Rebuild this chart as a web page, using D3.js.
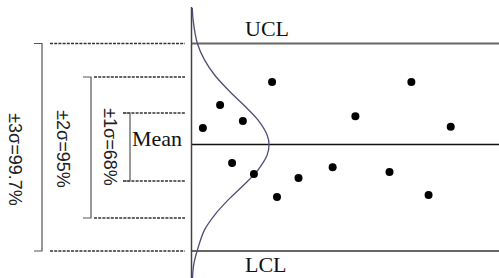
<!DOCTYPE html>
<html><head><meta charset="utf-8">
<script src="https://cdn.jsdelivr.net/npm/d3@7"></script>
<style>html,body{margin:0;padding:0;background:#fff;} svg{display:block;}</style>
</head><body>
<svg id="chart" width="499" height="278"></svg>
<script>
// ---- data ----
const sampleX = [3.7, 9.3, 13.2, 16.7, 20.3, 26.2, 27.8, 34.8, 45.9, 53.3, 64.4, 71.5, 77.1, 84.3];
const sampleY = [0.52, 1.22, -0.51, 0.75, -0.81, 1.86, -1.43, -0.92, -0.62, 0.90, -0.75, 1.86, -1.38, 0.56];
const sigmaLevels = [1, 2, 3];
const bandLabels = ["±1σ=68%", "±2σ=95%", "±3σ=99.7%"];
const limitLevels = [3, 0, -3];
const limitLabels = ["UCL", "Mean", "LCL"];
const curveLevel = [4.06, 3.70, 3.00, 2.51, 2.06, 1.64, 1.22, 0.78, 0.30, 0, -0.29, -0.70, -1.11, -1.51, -1.92, -2.36, -2.97, -3.42, -3.82];
const curveDensity = [0.010, 0.021, 0.076, 0.168, 0.298, 0.474, 0.674, 0.857, 0.976, 1, 0.976, 0.857, 0.674, 0.474, 0.298, 0.168, 0.076, 0.028, 0.013];

// ---- layout ----
const W = 499, H = 278;
const axisX = 191.5;
const svg = d3.select("#chart");
const x = d3.scaleLinear().domain([0, 100]).range([axisX, W]);
const y = d3.scaleLinear().domain([-3, -2, -1, 0, 1, 2, 3]).range([251, 218, 181, 144.5, 113, 77, 43.5]);
const xd = d3.scaleLinear().domain([0, 1]).range([axisX, 269]);

const bandLayout = {
  1: {dashX: 123, brX: 130, tickX: 123, labX: 109.5, labY: 147},
  2: {dashX: 94, brX: 91, tickX: 83, labX: 63, labY: 149},
  3: {dashX: 50, brX: 42, tickX: 34, labX: 15, labY: 159.5}
};
const limitLayout = {
  UCL: {tx: 245, ty: 36, color: "#666", w: 2},
  Mean: {tx: 132, ty: 146, color: "#111", w: 1.4},
  LCL: {tx: 245, ty: 272, color: "#333", w: 1.5}
};

// dashed sigma lines
sigmaLevels.forEach((s, i) => {
  const L = bandLayout[s];
  [s, -s].forEach(v => {
    svg.append("line").attr("x1", L.dashX).attr("x2", 185)
      .attr("y1", y(v)).attr("y2", y(v))
      .attr("stroke", "#333").attr("stroke-width", 1.3).attr("stroke-dasharray", "3,1.2");
  });
  // bracket
  svg.append("path")
    .attr("d", `M${L.tickX},${y(s)}H${L.brX}V${y(-s)}H${L.tickX}`)
    .attr("fill", "none").attr("stroke", "#555").attr("stroke-width", 1.2);
  svg.append("text")
    .attr("transform", `translate(${L.labX},${L.labY}) rotate(90)`)
    .attr("text-anchor", "middle").attr("dominant-baseline", "central")
    .attr("font-family", "'Liberation Sans', Arial, sans-serif")
    .attr("font-size", 18).attr("fill", "#222")
    .text(bandLabels[i]);
});

// limit lines
limitLevels.forEach((v, i) => {
  const L = limitLayout[limitLabels[i]];
  svg.append("line").attr("x1", axisX).attr("x2", W)
    .attr("y1", y(v)).attr("y2", y(v))
    .attr("stroke", L.color).attr("stroke-width", L.w);
  svg.append("text").attr("x", L.tx).attr("y", L.ty)
    .attr("font-family", "'Liberation Serif', 'Times New Roman', serif")
    .attr("font-size", 22).attr("fill", "#111")
    .text(limitLabels[i]);
});

// vertical axis
svg.append("line").attr("x1", axisX).attr("x2", axisX).attr("y1", 7).attr("y2", H)
  .attr("stroke", "#444").attr("stroke-width", 1.5);

// bell curve
const curvePts = curveLevel.map((l, i) => ({l, d: curveDensity[i]}));
svg.append("path").datum(curvePts)
  .attr("d", d3.line().x(p => xd(p.d)).y(p => y(p.l)).curve(d3.curveCatmullRom))
  .attr("fill", "none").attr("stroke", "#4e4e78").attr("stroke-width", 1.3);

// sample points
svg.selectAll("circle.pt").data(sampleX.map((v, i) => [v, sampleY[i]]))
  .join("circle").attr("class", "pt")
  .attr("cx", d => x(d[0])).attr("cy", d => y(d[1])).attr("r", 4)
  .attr("fill", "#000");
</script>
</body></html>
